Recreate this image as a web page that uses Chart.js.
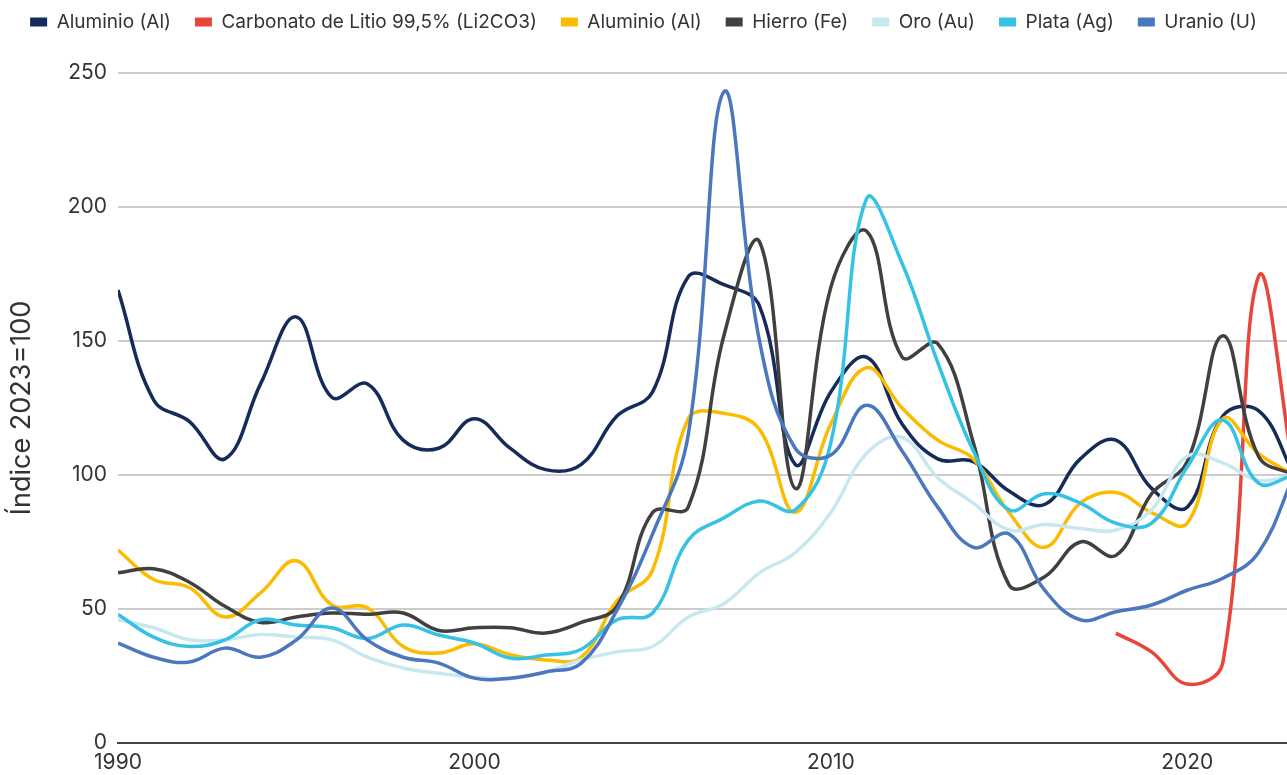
<!DOCTYPE html>
<html>
<head>
<meta charset="utf-8">
<script src="https://cdn.jsdelivr.net/npm/chart.js@4.4.1/dist/chart.umd.min.js"></script>
<style>
html,body{margin:0;padding:0;background:#fff;}
#wrap{width:1287px;height:775px;position:relative;}
</style>
</head>
<body>
<div id="wrap"><canvas id="c" width="1287" height="775"></canvas></div>
<script>
// ---- Data ----
const years = [1990,1991,1992,1993,1994,1995,1996,1997,1998,1999,
               2000,2001,2002,2003,2004,2005,2006,2007,2008,2009,
               2010,2011,2012,2013,2014,2015,2016,2017,2018,2019,
               2020,2021,2022,2023];

const seriesLabels = ['Aluminio (Al)','Carbonato de Litio 99,5% (Li2CO3)','Aluminio (Al)',
                      'Hierro (Fe)','Oro (Au)','Plata (Ag)','Uranio (U)'];

const aluminioNavy = [169,128,120,106,134,159,129,134,113,110,
                      121,110,102,104,122,131,174,171,163,104,
                      131,144,119,106,105,94,89,106,113,95,
                      88,122,124,100];

const litio = [null,null,null,null,null,null,null,null,null,null,
               null,null,null,null,null,null,null,null,null,null,
               null,null,null,null,null,null,null,null,41,34,
               22,30,174,100];

const aluminioYellow = [72,61,58,47,56,68,51.5,50.5,36,33.6,
                        37,33,31,32,53,64.5,121,123,117,86,
                        119,140,125,113,106,86,73,89.5,93.5,86,
                        82,121,108,100];

const hierro = [63.5,65,60,51,45,47,48.5,48,48.5,42,
                43,43,41,45,51,86,88,152,187,95,
                170,191,144,149,112,59,62,75,70,93,
                105,152,107,100];

const oro = [46,43,38.5,38.5,40.5,39.5,38.5,32,28,26,
             24.5,24,26.5,31,34,36,47,52,63.5,71,
             86,108,114,99,89.5,79.5,81.5,80,79.5,87,
             107,104.5,98,100];

const plata = [48,39.5,36,38.5,46,44,43,39,44,40.3,
               37.3,31.7,32.8,35,46,48.5,75.7,84,90.3,87,
               112,203,179,142,109,87,93,89.5,82,82,
               103,120.5,97,100];

const uranio = [37.3,32,30.2,35.4,32,38.4,50.4,38.4,32,29.8,
                24.2,24.2,26.5,29.8,49.6,78,115,243,150,110,
                107.5,126,109,88,73,78,57,46,49,51.5,
                57,61.5,71,100];

const yTicks = [0,50,100,150,200,250];
const xTicks = [1990,2000,2010,2020];

// ---- Build chart ----
const seriesValues = [aluminioNavy, litio, aluminioYellow, hierro, oro, plata, uranio];
const seriesColors = ['#172b5b','#e8453b','#fbbb00','#404040','#c8e8f0','#36c2e5','#4a77bd'];
const FONT = "Inter, 'Open Sans', sans-serif";

const datasets = seriesValues.map((vals, i) => ({
  label: seriesLabels[i],
  data: years.map((y, k) => ({x: y, y: vals[k]})),
  borderColor: seriesColors[i],
  backgroundColor: seriesColors[i],
  borderWidth: 3.5,
  pointRadius: 0,
  pointHoverRadius: 0,
  tension: 0.4,
  fill: false,
  spanGaps: false,
  order: seriesValues.length - 1 - i
}));

const LEGEND_PAD = 24;
const LEGEND_FONT = 19;
const PAD_TOP = 22 - LEGEND_PAD - LEGEND_FONT / 2;
const LEGEND_H = 73 - PAD_TOP;
const legendHeightPlugin = {
  id: 'legendHeight',
  beforeInit(chart) {
    const origFit = chart.legend.fit;
    chart.legend.fit = function() { origFit.call(this); this.height = LEGEND_H; };
  }
};

new Chart(document.getElementById('c'), {
  type: 'line',
  data: { datasets },
  plugins: [legendHeightPlugin],
  options: {
    responsive: false,
    animation: false,
    devicePixelRatio: 1,
    layout: { padding: { top: PAD_TOP, left: 0, right: 0, bottom: 0 } },
    plugins: {
      tooltip: { enabled: false },
      legend: {
        position: 'top',
        align: 'center',
        labels: {
          font: { family: FONT, size: LEGEND_FONT },
          color: '#333',
          boxWidth: 17,
          boxHeight: 9,
          padding: LEGEND_PAD,
          sort: (a, b) => a.datasetIndex - b.datasetIndex,
          generateLabels: (chart) => Chart.defaults.plugins.legend.labels.generateLabels(chart)
              .map(l => Object.assign(l, { lineWidth: 0, strokeStyle: 'rgba(0,0,0,0)' }))
        }
      }
    },
    scales: {
      x: {
        type: 'linear',
        min: 1990,
        max: 2022.8,
        afterFit: (s) => { s.height = 32; },
        afterBuildTicks: (s) => { s.ticks = xTicks.map(v => ({ value: v })); },
        grid: { display: false, drawTicks: false },
        border: { display: true, color: '#444', width: 2 },
        ticks: {
          font: { family: FONT, size: 21 },
          color: '#333',
          padding: 7,
          maxRotation: 0,
          autoSkip: false,
          callback: (v) => String(v)
        }
      },
      y: {
        min: 0,
        max: 250,
        afterFit: (s) => { s.width = 118; },
        afterBuildTicks: (s) => { s.ticks = yTicks.map(v => ({ value: v })); },
        grid: {
          drawTicks: false,
          color: (ctx) => ctx.tick && ctx.tick.value === 0 ? '#444' : '#cccccc',
          lineWidth: 2
        },
        border: { display: false },
        title: {
          display: true,
          text: 'Índice 2023=100',
          font: { family: FONT, size: 27 },
          color: '#333',
          padding: { top: 6, bottom: 0 }
        },
        ticks: {
          font: { family: FONT, size: 21 },
          color: '#333',
          padding: 11
        }
      }
    }
  }
});
</script>
</body>
</html>
